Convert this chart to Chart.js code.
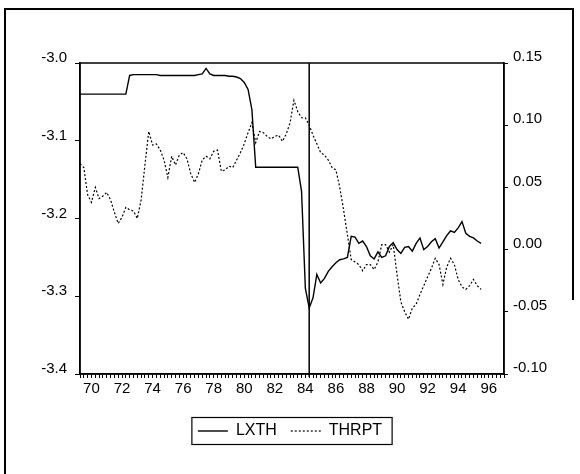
<!DOCTYPE html>
<html>
<head>
<meta charset="utf-8">
<script src="https://cdn.jsdelivr.net/npm/chart.js@4.4.0/dist/chart.umd.min.js"></script>
<style>
  html, body { margin: 0; padding: 0; background: #ffffff; }
  #wrap { position: relative; width: 580px; height: 474px; }
</style>
</head>
<body>
<div id="wrap"><canvas id="c" width="580" height="474"></canvas></div>
<script>
// ---- categories: quarterly dates (axis runs 1969Q2 .. 1997Q1) ----
const startYear = 1969, startQuarter = 2, endYear = 1997, endQuarter = 1;
const quarters = [];
for (let y = startYear, q = startQuarter; y < endYear || (y === endYear && q <= endQuarter);) {
  quarters.push(y + 'Q' + q);
  q++; if (q > 4) { q = 1; y++; }
}

// ---- series values, 1969Q2 .. 1995Q3 ----
const lxth = [
  -3.040, -3.040, -3.040, -3.040, -3.040, -3.040, -3.040, -3.040, -3.040, -3.040,
  -3.040, -3.040, -3.040, -3.016, -3.015, -3.015, -3.015, -3.015, -3.015, -3.015,
  -3.015, -3.016, -3.016, -3.016, -3.016, -3.016, -3.016, -3.016, -3.016, -3.016,
  -3.016, -3.015, -3.014, -3.007, -3.014, -3.016, -3.016, -3.016, -3.016, -3.017,
  -3.017, -3.018, -3.020, -3.025, -3.034, -3.060, -3.134, -3.134, -3.134, -3.134,
  -3.134, -3.134, -3.134, -3.134, -3.134, -3.134, -3.134, -3.134, -3.165, -3.290,
  -3.315, -3.302, -3.272, -3.283, -3.277, -3.268, -3.262, -3.257, -3.253, -3.252,
  -3.250, -3.223, -3.224, -3.232, -3.229, -3.236, -3.248, -3.252, -3.243, -3.250,
  -3.248, -3.236, -3.231, -3.240, -3.245, -3.237, -3.236, -3.242, -3.232, -3.225,
  -3.240, -3.236, -3.230, -3.226, -3.238, -3.230, -3.222, -3.216, -3.218, -3.212,
  -3.204, -3.219, -3.223, -3.225, -3.229, -3.232
];
const thrpt = [
  0.069, 0.066, 0.044, 0.038, 0.050, 0.041, 0.043, 0.046, 0.040, 0.030,
  0.021, 0.026, 0.034, 0.032, 0.031, 0.025, 0.040, 0.068, 0.095, 0.084,
  0.085, 0.080, 0.072, 0.058, 0.075, 0.068, 0.076, 0.078, 0.073, 0.061,
  0.054, 0.061, 0.072, 0.075, 0.073, 0.079, 0.080, 0.063, 0.064, 0.067,
  0.066, 0.072, 0.078, 0.085, 0.094, 0.102, 0.086, 0.095, 0.094, 0.091,
  0.089, 0.091, 0.092, 0.087, 0.093, 0.102, 0.120, 0.111, 0.106, 0.106,
  0.100, 0.092, 0.085, 0.078, 0.076, 0.072, 0.066, 0.064, 0.050, 0.032,
  0.012, -0.008, -0.010, -0.012, -0.017, -0.012, -0.012, -0.016, -0.010, 0.004,
  0.004, -0.002, 0.004, -0.020, -0.042, -0.050, -0.056, -0.047, -0.044, -0.036,
  -0.029, -0.022, -0.015, -0.007, -0.012, -0.028, -0.014, -0.007, -0.012, -0.024,
  -0.030, -0.032, -0.029, -0.024, -0.029, -0.032
];

// ---- axis ranges / tick settings ----
const leftRange = [-3.4, -3.0], leftStep = 0.1;
const rightRange = [-0.10, 0.15], rightStep = 0.05;
const breakQuarter = '1984Q2';
const seriesNames = ['LXTH', 'THRPT'];

const FONT = "'Liberation Sans', Arial, Helvetica, sans-serif";

const framePlugin = {
  id: 'frame',
  beforeDraw(chart) {
    const c = chart.ctx;
    c.save();
    c.fillStyle = '#fff';
    c.fillRect(0, 0, chart.width, chart.height);
    c.strokeStyle = '#000';
    c.lineWidth = 2;
    c.beginPath();
    c.moveTo(5, 474); c.lineTo(5, 9); c.lineTo(573, 9); c.lineTo(573, 300);
    c.stroke();
    c.restore();
  },
  afterDatasetsDraw(chart) {
    const c = chart.ctx, a = chart.chartArea, xs = chart.scales.x;
    c.save();
    c.strokeStyle = '#000';
    c.lineWidth = 1.5;
    c.strokeRect(a.left, a.top, a.right - a.left, a.bottom - a.top);
    const bx = xs.getPixelForValue(quarters.indexOf(breakQuarter));
    c.beginPath();
    c.moveTo(bx, a.top);
    c.lineTo(bx, a.bottom + 3);
    c.stroke();
    c.restore();
  },
  afterDraw(chart) {
    const lg = chart.legend;
    if (!lg || !lg.legendHitBoxes || !lg.legendHitBoxes.length) return;
    const hb = lg.legendHitBoxes;
    const first = hb[0], last = hb[hb.length - 1];
    const c = chart.ctx;
    const cy = first.top + first.height / 2;
    c.save();
    c.strokeStyle = '#000';
    c.lineWidth = 1.2;
    c.strokeRect(first.left - 6, cy - 13.5, (last.left + last.width + 10) - (first.left - 6), 27);
    c.restore();
  }
};

new Chart(document.getElementById('c'), {
  type: 'line',
  data: {
    labels: quarters,
    datasets: [
      { label: seriesNames[0], data: lxth, yAxisID: 'yL', borderColor: '#000', backgroundColor: '#000',
        borderWidth: 1.4, pointRadius: 0, tension: 0, fill: false },
      { label: seriesNames[1], data: thrpt, yAxisID: 'yR', borderColor: '#000', backgroundColor: '#000',
        borderWidth: 1.2, borderDash: [2, 2], pointRadius: 0, tension: 0, fill: false }
    ]
  },
  options: {
    responsive: false,
    animation: false,
    events: [],
    layout: { padding: { top: 63, left: 0, right: 0, bottom: 25 } },
    scales: {
      x: {
        type: 'category',
        offset: false,
        grid: { display: true, drawOnChartArea: false, drawTicks: true, tickLength: 4, color: '#000', lineWidth: 1 },
        border: { display: true, color: '#000', width: 1.5 },
        ticks: {
          autoSkip: false, maxRotation: 0, minRotation: 0, padding: 2, color: '#000',
          font: { family: FONT, size: 15 },
          callback: function (value, index) {
            const lab = quarters[index];
            const yr = parseInt(lab.slice(0, 4), 10);
            return (lab.endsWith('Q1') && yr % 2 === 0) ? String(yr % 100).padStart(2, '0') : '';
          }
        },
        afterFit(s) { s.height = 35; }
      },
      yL: {
        position: 'left',
        min: leftRange[0], max: leftRange[1],
        grid: { drawOnChartArea: false, tickLength: 5, color: '#000' },
        border: { display: true, color: '#000', width: 1.5 },
        ticks: { stepSize: leftStep, labelOffset: -5, padding: 8, color: '#000',
          font: { family: FONT, size: 15 },
          callback: v => v.toFixed(1) },
        afterFit(s) { s.width = 80; }
      },
      yR: {
        position: 'right',
        min: rightRange[0], max: rightRange[1],
        grid: { drawOnChartArea: false, tickLength: 4, color: '#000' },
        border: { display: true, color: '#000', width: 1.5 },
        ticks: { stepSize: rightStep, labelOffset: -6, padding: 5, color: '#000',
          font: { family: FONT, size: 15 },
          callback: v => (Math.abs(v) < 1e-9 ? 0 : v).toFixed(2) },
        afterFit(s) { s.width = 76; }
      }
    },
    plugins: {
      legend: {
        position: 'bottom',
        labels: {
          usePointStyle: true, pointStyle: 'line', pointStyleWidth: 30, boxWidth: 30, boxHeight: 16,
          padding: 14, color: '#000', font: { family: FONT, size: 16 },
          generateLabels(chart) {
            const items = Chart.defaults.plugins.legend.labels.generateLabels(chart);
            items.forEach(it => {
              const ds = chart.data.datasets[it.datasetIndex];
              it.lineDash = ds.borderDash || [];
              it.lineWidth = ds.borderWidth;
              it.strokeStyle = ds.borderColor;
            });
            return items;
          }
        }
      },
      tooltip: { enabled: false }
    }
  },
  plugins: [framePlugin]
});
</script>
</body>
</html>
